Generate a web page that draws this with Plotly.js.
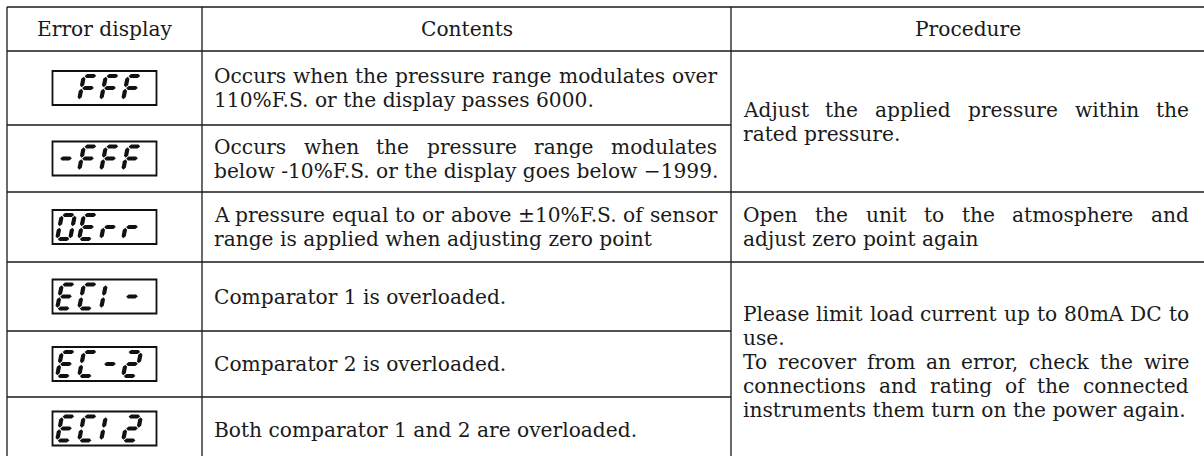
<!DOCTYPE html>
<html><head><meta charset="utf-8">
<script src="https://cdn.plot.ly/plotly-3.0.1.min.js"></script>
<style>html,body{margin:0;padding:0;background:#fff}#chart{width:1204px;height:456px}</style>
</head><body><div id="chart"></div>
<script>
// ---------- data ----------
const headers = ["Error display", "Contents", "Procedure"];
const errorCodes = [" FFF", "-FFF", "0Err", "EC1-", "EC-2", "EC12"];
const contents = [
  ["Occurs when the pressure range modulates over", "110%F.S. or the display passes 6000."],
  ["Occurs when the pressure range modulates", "below -10%F.S. or the display goes below \u22121999."],
  ["A pressure equal to or above \u00b110%F.S. of sensor", "range is applied when adjusting zero point"],
  ["Comparator 1 is overloaded."],
  ["Comparator 2 is overloaded."],
  ["Both comparator 1 and 2 are overloaded."]
];
const procedureRows = [[0, 1], [2, 2], [3, 5]];
const procedureTexts = [
  [["Adjust the applied pressure within the", "rated pressure."]],
  [["Open the unit to the atmosphere and", "adjust zero point again"]],
  [["Please limit load current up to 80mA DC to", "use."],
   ["To recover from an error, check the wire", "connections and rating of the connected", "instruments them turn on the power again."]]
];
// seven-segment glyph definitions
const segmentMap = {" ": "", "-": "g", "F": "afeg", "0": "abcdef", "E": "adefg", "r": "eg", "C": "adef", "1": "ef", "2": "abged"};

// ---------- layout geometry ----------
const W = 1204, H = 456;
const colX = [7, 202, 731, 1204];
const rowEdges = [7, 51, 125, 192, 262, 331, 397, 462];
const FONT_FAMILY = '"DejaVu Serif", serif';
const INK = '#1a1a1a';
const PAD_L = 11, PAD_R = 12;
const LH = 24;

const ctx = document.createElement('canvas').getContext('2d');
ctx.font = '100px "DejaVu Serif"';
const FS = Math.round(100 * 500 / ctx.measureText(contents[0][0]).width * 10) / 10;
ctx.font = FS + 'px "DejaVu Serif"';
const textW = s => ctx.measureText(s).width;

const annotations = [];
const shapes = [];
function ann(text, x, y, anchor) {
  annotations.push({text: text, x: x, y: y, xref: 'x', yref: 'y', showarrow: false,
    xanchor: anchor || 'left', yanchor: 'middle', borderpad: 0,
    font: {family: FONT_FAMILY, size: FS, color: INK}});
}
function placeLine(text, x0, x1, y, justify) {
  const words = text.split(' ');
  if (!justify || words.length < 2) { ann(text, x0, y); return; }
  const total = words.reduce((s, w) => s + textW(w), 0);
  const gap = (x1 - x0 - total) / (words.length - 1);
  let x = x0;
  words.forEach(w => { ann(w, x, y); x += textW(w) + gap; });
}
function placeBlock(paragraphs, x0, x1, yTop, yBot) {
  const lines = [];
  paragraphs.forEach(p => p.forEach((l, i) => lines.push([l, i < p.length - 1])));
  const cy = (yTop + Math.min(yBot, 470)) / 2;
  const start = cy - (lines.length - 1) * LH / 2;
  lines.forEach((ln, i) => placeLine(ln[0], x0, x1, start + i * LH, ln[1]));
}
function line(x0, y0, x1, y1) {
  shapes.push({type: 'line', xref: 'x', yref: 'y', x0: x0, y0: y0, x1: x1, y1: y1,
    line: {color: '#1a1a1a', width: 1.3}});
}

// headers
const hy = (rowEdges[0] + rowEdges[1]) / 2;
headers.forEach((h, i) => ann(h, (colX[i] + colX[i + 1]) / 2, hy, 'center'));

// contents
contents.forEach((c, r) => placeBlock([c], colX[1] + PAD_L, colX[2] - PAD_R - 3, rowEdges[r + 1], rowEdges[r + 2]));

// procedures
procedureTexts.forEach((p, i) => {
  const [a, b] = procedureRows[i];
  placeBlock(p, colX[2] + PAD_L, colX[3] - 16, rowEdges[a + 1], rowEdges[b + 2]);
});

// grid lines
line(colX[0], rowEdges[0], W, rowEdges[0]);
line(colX[0], rowEdges[1], W, rowEdges[1]);
for (let r = 1; r < errorCodes.length; r++) {
  const y = rowEdges[r + 1];
  const isProcBoundary = procedureRows.some(pr => pr[0] === r);
  line(colX[0], y, isProcBoundary ? W : colX[2], y);
}
[colX[0], colX[1], colX[2]].forEach(x => line(x, rowEdges[0], x, H + 10));

// seven-segment displays
const BOX_W = 104, BOX_H = 34, DIG_W = 13, DIG_H = 24, PITCH = 22, T = 4.2, GP = 0.7, SL = 0.2;
function segPoly(seg) {
  const h = DIG_H, w = DIG_W, m = h / 2;
  const H_ = (x0, x1, y) => [[x0 + GP, y], [x0 + GP + T / 2, y - T / 2], [x1 - GP - T / 2, y - T / 2], [x1 - GP, y], [x1 - GP - T / 2, y + T / 2], [x0 + GP + T / 2, y + T / 2]];
  const V_ = (x, y0, y1) => [[x, y0 + GP], [x + T / 2, y0 + GP + T / 2], [x + T / 2, y1 - GP - T / 2], [x, y1 - GP], [x - T / 2, y1 - GP - T / 2], [x - T / 2, y0 + GP + T / 2]];
  return {a: H_(0, w, 0), g: H_(0, w, m), d: H_(0, w, h), f: V_(0, 0, m), e: V_(0, m, h), b: V_(w, 0, m), c: V_(w, m, h)}[seg];
}
errorCodes.forEach((code, r) => {
  const cy = (rowEdges[r + 1] + Math.min(rowEdges[r + 2], 460)) / 2;
  const cx = (colX[0] + colX[1]) / 2;
  shapes.push({type: 'rect', xref: 'x', yref: 'y', x0: cx - BOX_W / 2, x1: cx + BOX_W / 2, y0: cy - BOX_H / 2, y1: cy + BOX_H / 2,
    line: {color: '#111', width: 1.8}, fillcolor: 'rgba(0,0,0,0)'});
  const top = cy - DIG_H / 2;
  code.split('').forEach((ch, i) => {
    const left = cx - BOX_W / 2 + 7 + i * PITCH;
    (segmentMap[ch] || '').split('').forEach(s => {
      const pts = segPoly(s).map(([x, y]) => [left + x + (DIG_H / 2 - y) * SL, top + y]);
      const path = 'M' + pts.map(p => p[0].toFixed(2) + ',' + p[1].toFixed(2)).join(' L') + ' Z';
      shapes.push({type: 'path', xref: 'x', yref: 'y', path: path, fillcolor: '#111', line: {width: 0}});
    });
  });
});

Plotly.newPlot('chart', [{type: 'scatter', x: [], y: [], mode: 'markers', hoverinfo: 'skip', showlegend: false}], {
  width: W, height: H, margin: {l: 0, r: 0, t: 0, b: 0},
  paper_bgcolor: '#fff', plot_bgcolor: '#fff', showlegend: false,
  xaxis: {range: [0, W], visible: false, fixedrange: true},
  yaxis: {range: [H, 0], visible: false, fixedrange: true},
  shapes: shapes, annotations: annotations
}, {staticPlot: true, displayModeBar: false});
</script>
</body></html>
